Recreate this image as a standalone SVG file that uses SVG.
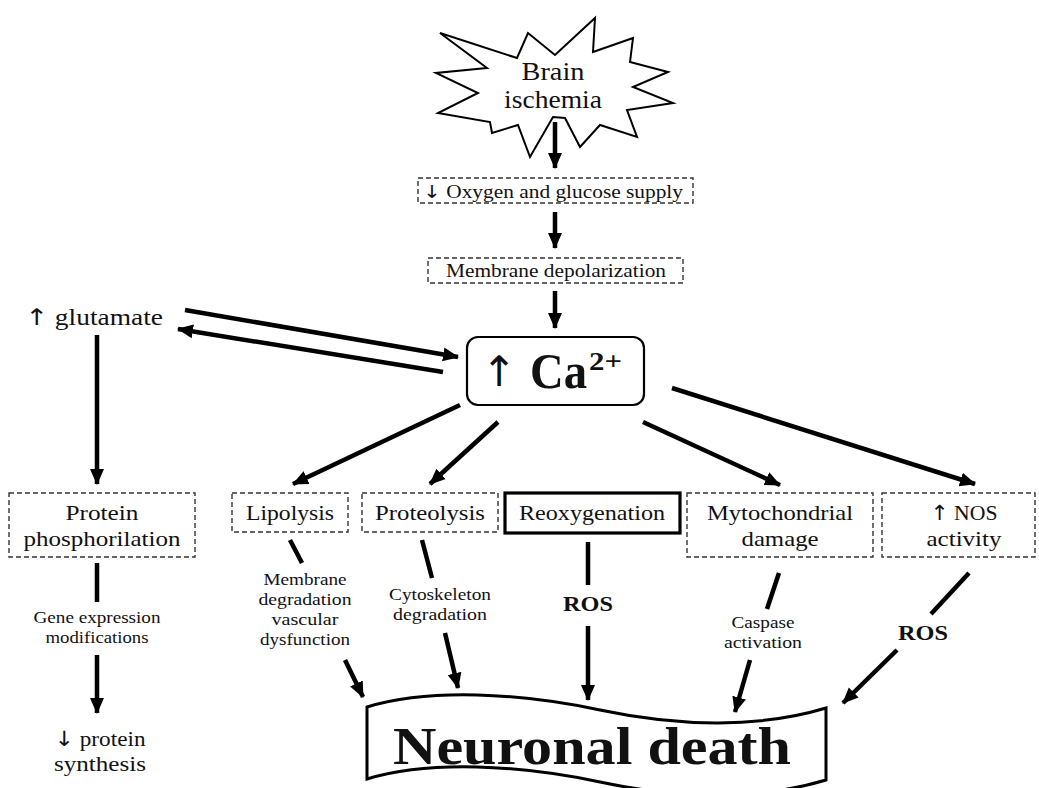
<svg xmlns="http://www.w3.org/2000/svg" width="1039" height="788" viewBox="0 0 1039 788">
<defs>
<marker id="ah" markerUnits="userSpaceOnUse" markerWidth="18" markerHeight="16" refX="15" refY="8" orient="auto">
<path d="M0,1 L16,8 L0,15 z" fill="#000"/>
</marker>
<style>
text{font-family:"Liberation Serif","Times New Roman",serif;fill:#111;text-anchor:middle}
.arr{font-family:"DejaVu Sans",sans-serif;font-weight:normal;fill:#111}
.dash{fill:none;stroke:#333;stroke-width:1.4;stroke-dasharray:5 3}
.c line{stroke:#000;stroke-width:4.5}
.c .a{marker-end:url(#ah)}
.t20{font-size:21px}
.t17{font-size:18px}
.t15{font-size:16px}
.b{font-weight:bold}
</style>
</defs>
<rect width="1039" height="788" fill="#fff"/>

<g id="brain-ischemia">
<polygon points="440,33 517,58 528,33 555,55 595,18 593,52 633,38 630,62 668,72 633,87 673,103 627,110 637,137 600,125 580,147 565,118 553,117 530,157 518,125 492,133 490,122 438,113 478,93 436,73 487,68" fill="#fff" stroke="#000" stroke-width="2"/>
<text x="553" y="80" style="font-size:25px" textLength="63" lengthAdjust="spacingAndGlyphs">Brain</text>
<text x="553" y="108" style="font-size:25px" textLength="98" lengthAdjust="spacingAndGlyphs">ischemia</text>
</g>

<g id="oxygen">
<rect class="dash" x="418" y="178" width="275" height="25"/>
<text class="t17" x="553" y="198" textLength="260" lengthAdjust="spacingAndGlyphs"><tspan class="arr">↓</tspan> Oxygen and glucose supply</text>
</g>

<g id="depolarization">
<rect class="dash" x="428" y="258" width="255" height="25"/>
<text class="t17" x="556" y="277" textLength="220" lengthAdjust="spacingAndGlyphs">Membrane depolarization</text>
</g>

<g id="glutamate">
<text x="94" y="325" style="font-size:23px" textLength="138" lengthAdjust="spacingAndGlyphs"><tspan class="arr">↑</tspan> glutamate</text>
</g>

<g id="calcium">
<rect x="467" y="337" width="177" height="68" rx="11" fill="#fff" stroke="#000" stroke-width="2.2"/>
<text x="499" y="386" class="arr" style="font-size:42px;text-anchor:middle">↑</text>
<text x="530" y="388" class="b" style="font-size:50px;text-anchor:start" textLength="57" lengthAdjust="spacingAndGlyphs">Ca</text>
<text x="589" y="370" class="b" style="font-size:25px;text-anchor:start" textLength="33" lengthAdjust="spacingAndGlyphs">2+</text>
</g>

<g id="protein-phos">
<rect class="dash" x="9" y="493" width="186" height="64"/>
<text class="t20" x="102" y="520" textLength="73" lengthAdjust="spacingAndGlyphs">Protein</text>
<text class="t20" x="102" y="546" textLength="157" lengthAdjust="spacingAndGlyphs">phosphorilation</text>
</g>

<g id="lipolysis">
<rect class="dash" x="232" y="493" width="116" height="39"/>
<text class="t20" x="290" y="520" textLength="88" lengthAdjust="spacingAndGlyphs">Lipolysis</text>
</g>

<g id="proteolysis">
<rect class="dash" x="362" y="493" width="136" height="39"/>
<text class="t20" x="430" y="520" textLength="110" lengthAdjust="spacingAndGlyphs">Proteolysis</text>
</g>

<g id="reoxygenation">
<rect x="505" y="493" width="175" height="40" fill="none" stroke="#000" stroke-width="3.2"/>
<text class="t20" x="592" y="520" textLength="146" lengthAdjust="spacingAndGlyphs">Reoxygenation</text>
</g>

<g id="mitochondrial">
<rect class="dash" x="687" y="493" width="186" height="64"/>
<text class="t20" x="780" y="520" textLength="146" lengthAdjust="spacingAndGlyphs">Mytochondrial</text>
<text class="t20" x="780" y="546" textLength="77" lengthAdjust="spacingAndGlyphs">damage</text>
</g>

<g id="nos">
<rect class="dash" x="882" y="493" width="153" height="64"/>
<text class="t20" x="964" y="520" textLength="67" lengthAdjust="spacingAndGlyphs"><tspan class="arr">↑</tspan> NOS</text>
<text class="t20" x="964" y="546" textLength="75" lengthAdjust="spacingAndGlyphs">activity</text>
</g>

<g id="protein-synthesis">
<text class="t20" x="100" y="746" textLength="91" lengthAdjust="spacingAndGlyphs"><tspan class="arr">↓</tspan> protein</text>
<text class="t20" x="100" y="771" textLength="92" lengthAdjust="spacingAndGlyphs">synthesis</text>
</g>

<g id="neuronal-death">
<path d="M367,707 C430,688 520,693 600,710 C680,727 760,728 826,708 L826,780 C760,800 680,799 600,782 C520,765 430,760 367,779 Z" fill="#fff" stroke="#000" stroke-width="3"/>
<text x="592" y="764" class="b" style="font-size:52px" textLength="398" lengthAdjust="spacingAndGlyphs">Neuronal death</text>
</g>

<g id="labels">
<text class="t15" x="97" y="623" textLength="127" lengthAdjust="spacingAndGlyphs">Gene expression</text>
<text class="t15" x="97" y="643" textLength="103" lengthAdjust="spacingAndGlyphs">modifications</text>
<text class="t15" x="305" y="585" textLength="83" lengthAdjust="spacingAndGlyphs">Membrane</text>
<text class="t15" x="305" y="605" textLength="93" lengthAdjust="spacingAndGlyphs">degradation</text>
<text class="t15" x="305" y="625" textLength="67" lengthAdjust="spacingAndGlyphs">vascular</text>
<text class="t15" x="305" y="645" textLength="90" lengthAdjust="spacingAndGlyphs">dysfunction</text>
<text class="t15" x="440" y="600" textLength="102" lengthAdjust="spacingAndGlyphs">Cytoskeleton</text>
<text class="t15" x="440" y="620" textLength="94" lengthAdjust="spacingAndGlyphs">degradation</text>
<text class="b" x="588" y="611" style="font-size:22px" textLength="50" lengthAdjust="spacingAndGlyphs">ROS</text>
<text class="t15" x="763" y="628" textLength="63" lengthAdjust="spacingAndGlyphs">Caspase</text>
<text class="t15" x="763" y="648" textLength="78" lengthAdjust="spacingAndGlyphs">activation</text>
<text class="b" x="923" y="640" style="font-size:22px" textLength="50" lengthAdjust="spacingAndGlyphs">ROS</text>
</g>

<g id="connectors" class="c">
<line class="a" x1="555" y1="122" x2="555" y2="168"/>
<line class="a" x1="555" y1="212" x2="555" y2="248"/>
<line class="a" x1="555" y1="291" x2="555" y2="328"/>
<line class="a" x1="185" y1="310" x2="458" y2="357"/>
<line class="a" x1="443" y1="372" x2="178" y2="329"/>
<line class="a" x1="97" y1="335" x2="97" y2="484"/>
<line class="a" x1="460" y1="405" x2="293" y2="484"/>
<line class="a" x1="498" y1="422" x2="430" y2="484"/>
<line class="a" x1="643" y1="422" x2="780" y2="485"/>
<line class="a" x1="672" y1="388" x2="975" y2="484"/>
<line x1="97" y1="563" x2="97" y2="602"/>
<line class="a" x1="97" y1="655" x2="97" y2="713"/>
<line x1="290" y1="540" x2="302" y2="563"/>
<line class="a" x1="345" y1="660" x2="363" y2="697"/>
<line x1="422" y1="540" x2="432" y2="578"/>
<line class="a" x1="445" y1="633" x2="458" y2="688"/>
<line x1="588" y1="542" x2="588" y2="585"/>
<line class="a" x1="588" y1="626" x2="588" y2="700"/>
<line x1="779" y1="573" x2="767" y2="609"/>
<line class="a" x1="750" y1="660" x2="735" y2="712"/>
<line x1="969" y1="573" x2="931" y2="614"/>
<line class="a" x1="897" y1="650" x2="843" y2="703"/>
</g>
</svg>
